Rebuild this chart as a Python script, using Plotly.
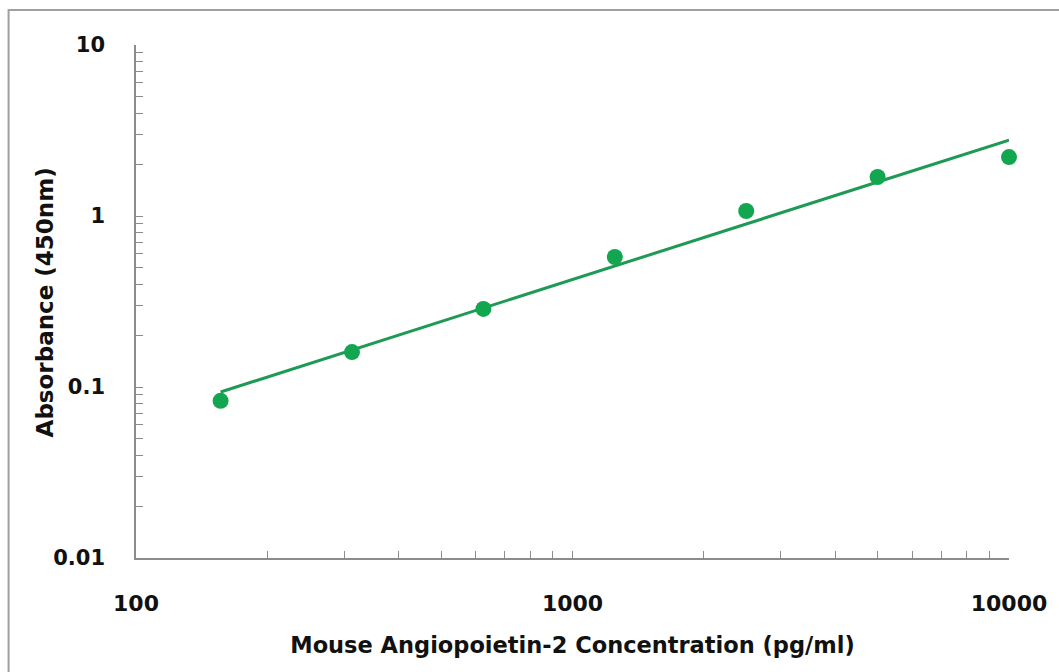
import plotly.graph_objects as go

conc = [156.25, 312.5, 625, 1250, 2500, 5000, 10000]
absorbance = [0.083, 0.160, 0.286, 0.576, 1.07, 1.69, 2.21]
trend = [0.0935, 0.165, 0.290, 0.510, 0.898, 1.58, 2.78]

x_ticks = [100, 1000, 10000]
x_tick_text = ["100", "1000", "10000"]
y_ticks = [0.01, 0.1, 1, 10]
y_tick_text = ["0.01", "0.1", "1", "10"]

green_line = "#1f9a55"
green_dot = "#12a650"
axis_col = "#8c8c8c"
font_fam = "DejaVu Sans, Verdana, sans-serif"

fig = go.Figure()
fig.add_trace(go.Scatter(x=conc, y=trend, mode="lines", cliponaxis=False,
                         line=dict(color=green_line, width=3), showlegend=False,
                         hoverinfo="skip"))
fig.add_trace(go.Scatter(x=conc, y=absorbance, mode="markers", cliponaxis=False,
                         marker=dict(color=green_dot, size=16), showlegend=False))

W, H = 1059, 672
ml, mt = 136, 45
mr = W - 1013
mb = H - 558
pw, ph = W - ml - mr, H - mt - mb

fig.update_layout(
    width=W, height=H,
    margin=dict(l=ml, r=mr, t=mt, b=mb),
    paper_bgcolor="white", plot_bgcolor="white",
    font=dict(family=font_fam, color="#111111"),
    xaxis=dict(
        type="log", range=[2, 4], showgrid=False, zeroline=False,
        showline=True, linecolor=axis_col, linewidth=1.5,
        tickvals=x_ticks, ticktext=x_tick_text,
        ticks="inside", ticklen=7, tickcolor=axis_col, tickwidth=1,
        tickfont=dict(size=22, family=font_fam, color="#111111", weight="bold"),
        ticklabelstandoff=25,
        minor=dict(dtick="D1", ticks="inside", ticklen=7, tickcolor=axis_col, tickwidth=1, showgrid=False),
        title=dict(text="Mouse Angiopoietin-2 Concentration (pg/ml)",
                   font=dict(size=22.5, family=font_fam, color="#111111", weight="bold"),
                   standoff=22),
    ),
    yaxis=dict(
        type="log", range=[-2, 1], showgrid=False, zeroline=False,
        showline=True, linecolor=axis_col, linewidth=1.5,
        tickvals=y_ticks, ticktext=y_tick_text,
        ticks="inside", ticklen=7, tickcolor=axis_col, tickwidth=1,
        tickfont=dict(size=21, family=font_fam, color="#111111", weight="bold"),
        ticklabelstandoff=25,
        minor=dict(dtick="D1", ticks="inside", ticklen=7, tickcolor=axis_col, tickwidth=1, showgrid=False),
    ),
    annotations=[dict(text="Absorbance (450nm)", textangle=-90, showarrow=False,
                      xref="paper", yref="paper",
                      x=(45 - ml) / pw, y=(H - mb - 302) / ph,
                      xanchor="center", yanchor="middle",
                      font=dict(size=23, family=font_fam, color="#111111", weight="bold"))],
    shapes=[dict(type="rect", xref="paper", yref="paper",
                 x0=(8 - ml) / pw, x1=(1070 - ml) / pw,
                 y0=(H - mb - 700) / ph, y1=(H - mb - 10) / ph,
                 line=dict(color="#a0a0a0", width=2), layer="below")],
)

fig.write_html("out.html", config={"displayModeBar": False},
               post_script="document.body.style.margin='0';document.body.style.overflow='hidden';")
